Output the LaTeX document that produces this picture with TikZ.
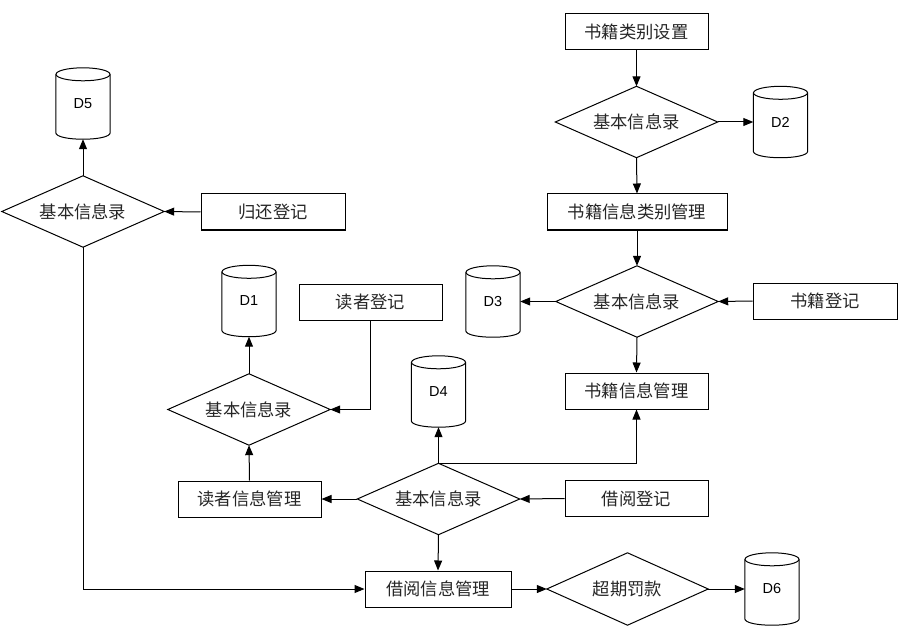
\documentclass[tikz,border=0pt]{standalone}
\usepackage{fontspec}
\setmainfont{Noto Sans CJK SC}
\newfontfamily\dfont{Liberation Sans}
\usetikzlibrary{calc,arrows.meta}
\tikzset{
  ln/.style={line width=1pt, draw=black},
  arr/.style={ln, -{Triangle[length=10pt,width=8pt]}},
  zh/.style={font=\fontsize{17.3}{19}\selectfont, text=black!85},
  box/.style={zh, draw, line width=1pt, minimum height=36, inner sep=0pt},
  dia/.style={zh, minimum width=162, minimum height=71, inner sep=0pt},
  cyl/.style={font=\dfont\fontsize{14.5}{16}\selectfont, minimum width=54, minimum height=71, inner sep=0pt}
}
\begin{document}
\begin{tikzpicture}[x=1pt,y=-1pt]
\useasboundingbox (0,0) rectangle (902,639);
% boxes
\node[box, minimum width=143] (b1) at (636.5,32) {书籍类别设置};
\node[box, minimum width=180] (b2) at (637,212) {书籍信息类别管理};
\node[box, minimum width=144] (b3) at (825,301) {书籍登记};
\node[box, minimum width=143] (b4) at (636.5,391) {书籍信息管理};
\node[box, minimum width=143] (b5) at (636.5,498.5) {借阅登记};
\node[box, minimum width=143] (b6) at (249.5,499) {读者信息管理};
\node[box, minimum width=143] (b7) at (370.5,302) {读者登记};
\node[box, minimum width=144] (b8) at (273,212) {归还登记};
\node[box, minimum width=146] (b9) at (438,589) {借阅信息管理};
% diamonds
\node[dia] (d1) at (636.5,122) {基本信息录};
\node[dia] (d2) at (637,301.5) {基本信息录};
\node[dia] (d3) at (438.5,499) {基本信息录};
\node[dia] (d4) at (249,409.5) {基本信息录};
\node[dia] (d5) at (83,211.5) {基本信息录};
\node[dia, minimum width=161, minimum height=72] (d6) at (627.5,589) {超期罚款};
\foreach \n in {d1,d2,d3,d4,d5,d6}{
  \draw[ln] (\n.north) -- (\n.east) -- (\n.south) -- (\n.west) -- cycle;
}
% cylinders
\node[cyl] (c1) at (249,301) {D1};
\node[cyl] (c2) at (780.5,122) {D2};
\node[cyl] (c3) at (493,301.5) {D3};
\node[cyl] (c4) at (438.5,391.5) {D4};
\node[cyl] (c5) at (83,103.5) {D5};
\node[cyl, minimum height=72] (c6) at (772,589) {D6};
\foreach \n in {c1,c2,c3,c4,c5,c6}{
  \draw[ln] ($(\n.north)+(0,6.5)$) ellipse [x radius=27, y radius=6.5];
  \draw[ln] ($(\n.north west)+(0,6.5)$) -- ($(\n.south west)+(0,-6.5)$)
    .. controls ($(\n.south west)+(0,2.2)$) and ($(\n.south east)+(0,2.2)$) .. ($(\n.south east)+(0,-6.5)$)
    -- ($(\n.north east)+(0,6.5)$);
}
% connectors
\draw[arr] (b1.south) -- (d1.north);
\draw[arr] (d1.east) -- (c2.west);
\draw[arr] (d1.south) -- (b2.north);
\draw[arr] (b2.south) -- (d2.north);
\draw[arr] (d2.west) -- (c3.east);
\draw[arr] (b3.west) -- (d2.east);
\draw[arr] (d2.south) -- (b4.north);
\draw[arr] (d3.north) -- (c4.south);
\draw[arr] (d3.north) -| (b4.south);
\draw[arr] (b5.west) -- (d3.east);
\draw[arr] (d3.west) -- (b6.east);
\draw[arr] (b6.north) -- (d4.south);
\draw[arr] (d4.north) -- (c1.south);
\draw[arr] (b7.south) |- (d4.east);
\draw[arr] (d3.south) -- (b9.north);
\draw[arr] (b9.east) -- (d6.west);
\draw[arr] (d6.east) -- (c6.west);
\draw[arr] (d5.north) -- (c5.south);
\draw[arr] (b8.west) -- (d5.east);
\draw[arr] (d5.south) |- (b9.west);
\end{tikzpicture}
\end{document}
